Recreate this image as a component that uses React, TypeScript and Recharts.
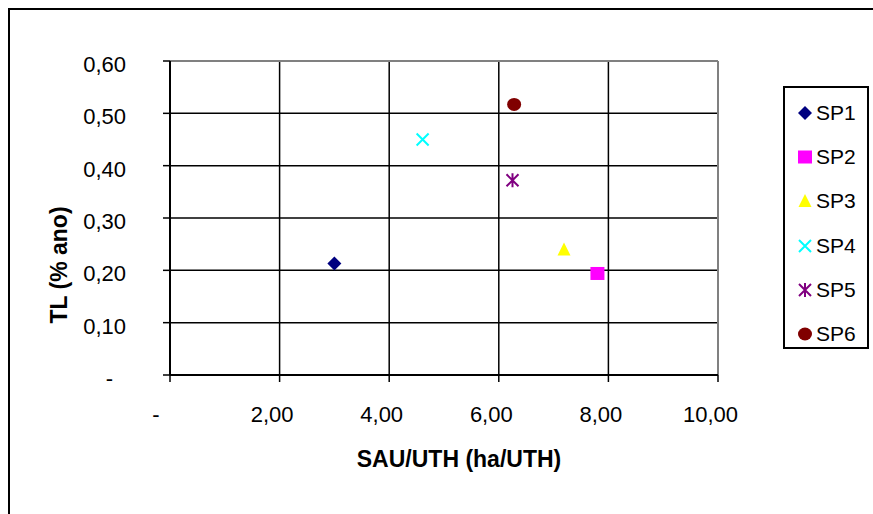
import React from 'react';
import {
  ScatterChart,
  Scatter,
  XAxis,
  YAxis,
  CartesianGrid,
  ReferenceLine,
} from 'recharts';

// SAU/UTH (ha/UTH) against TL (% ano) for each farm system
const seriesNames = ['SP1', 'SP2', 'SP3', 'SP4', 'SP5', 'SP6'];
const sauUth = [3.0, 7.8, 7.19, 4.61, 6.25, 6.28];
const tlRate = [0.213, 0.194, 0.24, 0.45, 0.372, 0.517];
const seriesColors = ['#000080', '#FF00FF', '#FFFF00', '#00FFFF', '#800080', '#800000'];

const xTicks = [0, 2, 4, 6, 8, 10];
const yTicks = [0, 0.1, 0.2, 0.3, 0.4, 0.5, 0.6];

const FONT = '"Liberation Sans", Arial, sans-serif';

const fmt = (v: number) => (v === 0 ? '-' : v.toFixed(2).replace('.', ','));

type MarkerKind = 'diamond' | 'square' | 'triangle' | 'cross' | 'star' | 'circle';
const markerKinds: MarkerKind[] = ['diamond', 'square', 'triangle', 'cross', 'star', 'circle'];

const Marker = ({ kind, cx, cy, color }: { kind: MarkerKind; cx: number; cy: number; color: string }) => {
  switch (kind) {
    case 'diamond':
      return <path d={`M${cx},${cy - 7}L${cx + 7},${cy}L${cx},${cy + 7}L${cx - 7},${cy}Z`} fill={color} />;
    case 'square':
      return <rect x={cx - 7} y={cy - 6.5} width={14} height={13} fill={color} />;
    case 'triangle':
      return <path d={`M${cx},${cy - 7}L${cx + 6.5},${cy + 6}L${cx - 6.5},${cy + 6}Z`} fill={color} />;
    case 'cross':
      return (
        <path
          d={`M${cx - 6},${cy - 6}L${cx + 6},${cy + 6}M${cx + 6},${cy - 6}L${cx - 6},${cy + 6}`}
          stroke={color}
          strokeWidth={2}
          fill="none"
        />
      );
    case 'star':
      return (
        <path
          d={`M${cx - 6},${cy - 6}L${cx + 6},${cy + 6}M${cx + 6},${cy - 6}L${cx - 6},${cy + 6}M${cx},${cy - 7}L${cx},${cy + 7}`}
          stroke={color}
          strokeWidth={2}
          fill="none"
        />
      );
    default:
      return <ellipse cx={cx} cy={cy} rx={7} ry={6.5} fill={color} />;
  }
};

const YTick = (props: any) => {
  const { x, y, payload } = props;
  const zero = payload.value === 0;
  return (
    <text x={zero ? x - 13 : x} y={y} dy={11} textAnchor="end" fontSize={22} fontFamily={FONT} fill="#000">
      {fmt(payload.value)}
    </text>
  );
};

const XTick = (props: any) => {
  const { x, y, payload } = props;
  const zero = payload.value === 0;
  return (
    <text x={x - (zero ? 14 : 7.5)} y={y} dy={32} textAnchor="middle" fontSize={22} fontFamily={FONT} fill="#000">
      {fmt(payload.value)}
    </text>
  );
};

const App = () => {
  return (
    <div style={{ position: 'relative', width: 873, height: 514, overflow: 'hidden', background: '#fff' }}>
      <style>{'body{margin:0;overflow:hidden}'}</style>
      {/* chart frame, runs past the right and bottom edges */}
      <div
        style={{
          position: 'absolute',
          left: 8,
          top: 8,
          width: 960,
          height: 640,
          border: '2px solid #000',
        }}
      />
      <ScatterChart
        width={873}
        height={514}
        margin={{ top: 61, right: 155, bottom: 0, left: 0 }}
        style={{ position: 'absolute', left: 0, top: 0 }}
      >
        <CartesianGrid stroke="#000" strokeWidth={1.5} />
        <XAxis
          type="number"
          dataKey="x"
          domain={[0, 10]}
          ticks={xTicks}
          height={139}
          tickSize={7}
          tickMargin={8}
          tick={<XTick />}
          axisLine={{ stroke: '#000', strokeWidth: 2 }}
          tickLine={{ stroke: '#000', strokeWidth: 1.5 }}
          allowDataOverflow
        />
        <YAxis
          type="number"
          dataKey="y"
          domain={[0, 0.6]}
          ticks={yTicks}
          width={170}
          tickSize={7}
          tickMargin={37}
          tick={<YTick />}
          axisLine={{ stroke: '#000', strokeWidth: 2 }}
          tickLine={{ stroke: '#000', strokeWidth: 1.5 }}
          allowDataOverflow
        />
        <ReferenceLine y={0.6} stroke="#808080" strokeWidth={2} />
        <ReferenceLine x={10} stroke="#808080" strokeWidth={2} />
        {seriesNames.map((name, i) => (
          <Scatter
            key={name}
            name={name}
            data={[{ x: sauUth[i], y: tlRate[i] }]}
            fill={seriesColors[i]}
            isAnimationActive={false}
            shape={(p: any) => <Marker kind={markerKinds[i]} cx={p.cx} cy={p.cy} color={seriesColors[i]} />}
          />
        ))}
      </ScatterChart>

      {/* axis titles */}
      <div
        style={{
          position: 'absolute',
          left: 259,
          width: 400,
          top: 446,
          textAlign: 'center',
          fontFamily: FONT,
          fontWeight: 'bold',
          fontSize: 23,
          lineHeight: '26px',
        }}
      >
        SAU/UTH (ha/UTH)
      </div>
      <svg style={{ position: 'absolute', left: 0, top: 0 }} width={873} height={514} pointerEvents="none">
        <text
          transform="translate(67,265) rotate(-90)"
          textAnchor="middle"
          fontFamily={FONT}
          fontWeight="bold"
          fontSize={23}
          fill="#000"
        >
          TL (% ano)
        </text>
      </svg>

      {/* legend */}
      <div
        style={{
          position: 'absolute',
          left: 783,
          top: 86,
          width: 86,
          height: 263,
          boxSizing: 'border-box',
          border: '2px solid #000',
          background: '#fff',
        }}
      >
        {seriesNames.map((name, i) => (
          <div key={name} style={{ position: 'absolute', left: 0, top: 12 + i * 44.2, height: 26, width: 82 }}>
            <svg width={30} height={26} style={{ position: 'absolute', left: 4, top: 0 }}>
              <Marker kind={markerKinds[i]} cx={16} cy={13} color={seriesColors[i]} />
            </svg>
            <span
              style={{
                position: 'absolute',
                left: 31,
                top: 0,
                fontFamily: FONT,
                fontSize: 21,
                lineHeight: '26px',
              }}
            >
              {name}
            </span>
          </div>
        ))}
      </div>
    </div>
  );
};

export default App;
